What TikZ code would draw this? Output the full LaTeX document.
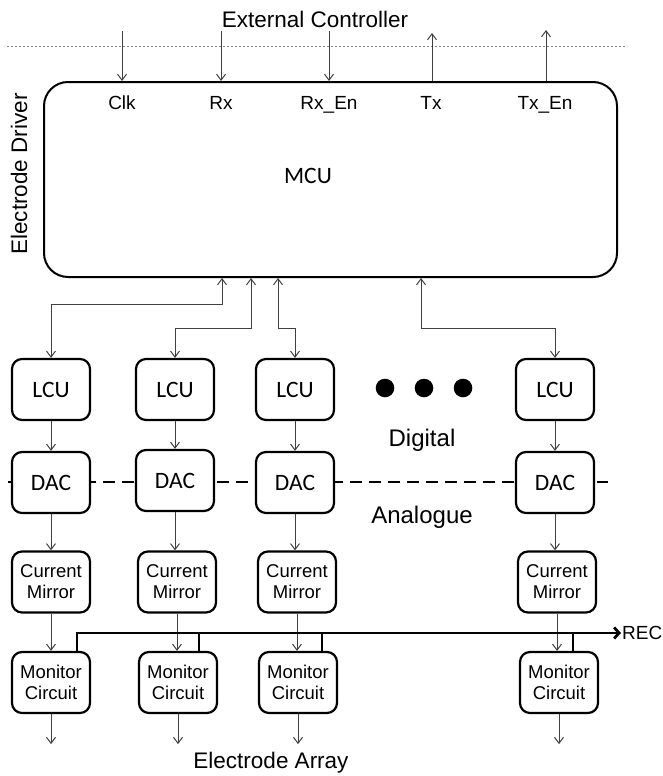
\documentclass[tikz,border=0pt]{standalone}
\usepackage{fontspec}
\setmainfont{Liberation Sans}
\newfontfamily\calfont{Carlito}
\usetikzlibrary{arrows.meta}
\begin{document}
\begin{tikzpicture}[x=1pt,y=-1pt,
  conn/.style={draw=black!75, line width=1pt},
  arr/.style={conn, -{Straight Barb[length=6pt,width=9pt]}},
  dbl/.style={conn, {Straight Barb[length=6pt,width=9pt]}-{Straight Barb[length=6pt,width=9pt]}},
  blk/.style={draw, line width=2.2pt, rounded corners=10pt, minimum width=78pt, minimum height=61pt, fill=white, align=center, inner sep=0pt},
  big/.style={font=\calfont\fontsize{23.5}{26}\selectfont},
  two/.style={font=\fontsize{18.5}{21}\selectfont},
  lab/.style={font=\fontsize{19}{21}\selectfont, inner sep=0pt, anchor=base},
  ttl/.style={font=\fontsize{22.5}{25}\selectfont, inner sep=0pt},
  bus/.style={draw=black, line width=2.8pt}
]
\useasboundingbox (0,0) rectangle (663,776);

% lines
\coordinate (dl1) at (7,46); \coordinate (dl2) at (625,46);
\draw[black!50, line width=0.9pt, dash pattern=on 2pt off 2pt] (dl1) -- (dl2);
\coordinate (da1) at (8,482); \coordinate (da2) at (608,482);
\draw[black, line width=2.5pt, dash pattern=on 12pt off 7pt] (da1) -- (da2);

% MCU
\node[draw, line width=2pt, rounded corners=24pt, minimum width=573pt, minimum height=195pt, inner sep=0pt] (mcu) at (330.5,179.5) {};
\node[big, inner sep=0pt] (mculab) at (308,176) {MCU};
\node[ttl] (ext) at (315,19) {External Controller};
\node[ttl, rotate=90] (drv) at (19,174) {Electrode Driver};

\node[lab] (clk) at (122,109) {Clk};
\node[lab] (rx) at (221,109) {Rx};
\node[lab] (rxen) at (329,109) {Rx\_En};
\node[lab] (tx) at (431,109) {Tx};
\node[lab] (txen) at (545,109) {Tx\_En};

\coordinate (t1) at (122,31);
\coordinate (t2) at (221,31);
\coordinate (t3) at (329,31);
\coordinate (t4) at (432,33);
\coordinate (t5) at (546,30);
\draw[arr] (t1) -- (t1 |- mcu.north);
\draw[arr] (t2) -- (t2 |- mcu.north);
\draw[arr] (t3) -- (t3 |- mcu.north);
\draw[arr] (t4 |- mcu.north) -- (t4);
\draw[arr] (t5 |- mcu.north) -- (t5);

% LCU row
\node[blk, big] (lcu1) at (51,389.5) {LCU};
\node[blk, big] (lcu2) at (175,389.5) {LCU};
\node[blk, big] (lcu3) at (295,389.5) {LCU};
\node[blk, big] (lcu4) at (555,389.5) {LCU};

\fill (385,388) circle (9.3pt);
\fill (424,388) circle (9.3pt);
\fill (463,388) circle (9.3pt);

\node[font=\fontsize{24}{26}\selectfont] (dig) at (422,440) {Digital};
\node[font=\fontsize{24}{26}\selectfont] (ana) at (422,517) {Analogue};

% DAC row
\node[blk, big] (dac1) at (51,482.5) {DAC};
\node[blk, big] (dac2) at (175,480.5) {DAC};
\node[blk, big] (dac3) at (295,482.5) {DAC};
\node[blk, big] (dac4) at (555,482.5) {DAC};

% Current mirror row
\node[blk, two] (cm1) at (51,582) {Current\\Mirror};
\node[blk, two] (cm2) at (177,582) {Current\\Mirror};
\node[blk, two] (cm3) at (297,582) {Current\\Mirror};
\node[blk, two] (cm4) at (557,582) {Current\\Mirror};

% Monitor row
\node[blk, two] (mon1) at (51,682.5) {Monitor\\Circuit};
\node[blk, two] (mon2) at (178,682.5) {Monitor\\Circuit};
\node[blk, two] (mon3) at (298,682.5) {Monitor\\Circuit};
\node[blk, two] (mon4) at (559,682.5) {Monitor\\Circuit};

\node[ttl] (arrlab) at (271,763) {Electrode Array};

% MCU to LCU
\coordinate (m1) at (222,0);
\coordinate (m2) at (251,0);
\coordinate (m3) at (278,0);
\coordinate (m4) at (421,0);
\draw[dbl] (mcu.south -| m1) -- ++(0,26) -| (lcu1.north);
\draw[dbl] (mcu.south -| m2) -- ++(0,50) -| (lcu2.north);
\draw[dbl] (mcu.south -| m3) -- ++(0,50) -| (lcu3.north);
\draw[dbl] (mcu.south -| m4) -- ++(0,50) -| (lcu4.north);

% vertical chains
\foreach \i in {1,2,3,4}{
  \draw[arr] (lcu\i.south) -- (lcu\i.south |- dac\i.north);
  \draw[arr] (dac\i.south) -- (dac\i.south |- cm\i.north);
  \draw[arr] (cm\i.south) -- (cm\i.south |- mon\i.north);
}
\foreach \i in {1,2,3,4}{
  \draw[arr] (mon\i.south) -- ++(0,30);
}

% REC bus
\node[font=\fontsize{19}{21}\selectfont, anchor=west, inner sep=1pt] (rec) at (621,633) {REC};
\coordinate (b1) at (77,0);
\coordinate (b2) at (199,0);
\coordinate (b3) at (322,0);
\coordinate (b4) at (573,0);
\draw[bus, -{Straight Barb[length=5pt,width=11pt]}] (mon1.north -| b1) |- (rec.west);
\draw[bus] (mon2.north -| b2) -- (b2 |- rec.west);
\draw[bus] (mon3.north -| b3) -- (b3 |- rec.west);
\draw[bus] (mon4.north -| b4) -- (b4 |- rec.west);
\end{tikzpicture}
\end{document}
